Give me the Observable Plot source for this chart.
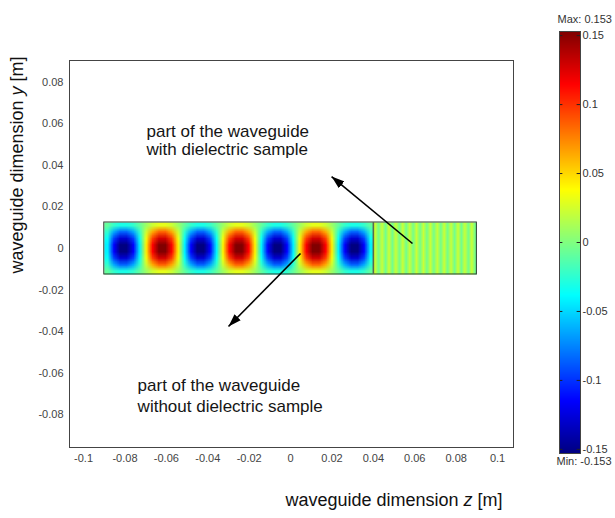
<!DOCTYPE html>
<html>
<head>
<meta charset="utf-8">
<script src="https://cdn.jsdelivr.net/npm/d3@7"></script>
<script src="https://cdn.jsdelivr.net/npm/@observablehq/plot@0.6"></script>
<style>
html, body { margin: 0; padding: 0; background: #fff; }
#wrap { position: relative; width: 615px; height: 518px; overflow: hidden; font-family: "Liberation Sans", Arial, sans-serif; }
#wrap svg { position: absolute; overflow: visible; }
.title { position: absolute; color: #111; font-size: 18px; white-space: nowrap; line-height: 1; }
</style>
</head>
<body>
<div id="wrap"></div>
<script>
// ---- data ----
const xTicks = [-0.1, -0.08, -0.06, -0.04, -0.02, 0, 0.02, 0.04, 0.06, 0.08, 0.1];
const yTicks = [-0.08, -0.06, -0.04, -0.02, 0, 0.02, 0.04, 0.06, 0.08];
const colorTicks = [-0.15, -0.1, -0.05, 0, 0.05, 0.1, 0.15];
const fieldMin = -0.153;
const fieldMax = 0.153;
// waveguide geometry: start, end of empty part (= start of sample), end
const guideZ = [-0.09, 0.04, 0.09];
const guideY = [-0.0125, 0.0125];
// field along the centre line of the empty part (7 half-waves, 6 samples each)
const zProfileEmpty = [
  -0.042, -0.115, -0.153, -0.153, -0.115, -0.042,
   0.042,  0.115,  0.153,  0.153,  0.115,  0.042,
  -0.042, -0.115, -0.153, -0.153, -0.115, -0.042,
   0.042,  0.115,  0.153,  0.153,  0.115,  0.042,
  -0.042, -0.115, -0.153, -0.153, -0.115, -0.042,
   0.042,  0.115,  0.153,  0.153,  0.115,  0.042,
  -0.042, -0.115, -0.153, -0.153, -0.115, -0.042
];
// relative amplitude across the waveguide height
const yProfile = [0.2, 0.56, 0.84, 1, 1, 0.84, 0.56, 0.2];
// field along the part with the dielectric sample (fine stripes)
const zProfileSample = [
  0.022, -0.004, 0.022, -0.004, 0.022, -0.004, 0.022, -0.004, 0.022, -0.004,
  0.022, -0.004, 0.022, -0.004, 0.022, -0.004, 0.022, -0.004, 0.022, -0.004,
  0.022, -0.004, 0.022, -0.004, 0.022, -0.004, 0.022, -0.004, 0.022, -0.004
];
const noteText = ["part of the waveguide", "with dielectric sample", "part of the waveguide", "without dielectric sample"];
const noteX = [-0.0696, -0.0696, -0.0739, -0.0739];
const noteY = [0.0563, 0.0476, -0.0659, -0.0760];
const arrowFrom = [[0.0589, 0.0024], [0.0048, -0.0024]];
const arrowTo = [[0.0198, 0.0346], [-0.030, -0.0375]];
const jetColors = ["#000080", "#0000ff", "#0080ff", "#00ffff", "#80ff80", "#ffff00", "#ff8000", "#ff0000", "#800000"];

// ---- derived tables ----
const fieldEmpty = yProfile.flatMap(a => zProfileEmpty.map(b => a * b));
const fieldSample = yProfile.flatMap(() => zProfileSample.slice());
const notes = noteText.map((t, i) => ({text: t, x: noteX[i], y: noteY[i]}));
const arrows = arrowFrom.map((f, i) => ({x1: f[0], y1: f[1], x2: arrowTo[i][0], y2: arrowTo[i][1]}));
const colorOpts = {domain: [fieldMin, fieldMax], interpolate: d3.piecewise(d3.interpolateRgb, jetColors)};
const font = "'Liberation Sans', Arial, sans-serif";

const main = Plot.plot({
  width: 615, height: 518,
  marginLeft: 69, marginRight: 102, marginTop: 60, marginBottom: 71,
  x: {domain: [-0.1068, 0.1077]},
  y: {domain: [-0.0957, 0.0904]},
  color: colorOpts,
  style: {fontFamily: font, fontSize: "11px", color: "#444", background: "transparent"},
  marks: [
    Plot.raster(fieldEmpty, {width: zProfileEmpty.length, height: yProfile.length,
      x1: guideZ[0], x2: guideZ[1], y1: guideY[0], y2: guideY[1], fill: d => d, imageRendering: "auto"}),
    Plot.raster(fieldSample, {width: zProfileSample.length, height: yProfile.length,
      x1: guideZ[1], x2: guideZ[2], y1: guideY[0], y2: guideY[1], fill: d => d, imageRendering: "auto"}),
    Plot.rect([0], {x1: guideZ[0], x2: guideZ[2], y1: guideY[0], y2: guideY[1], fill: "none", stroke: "#2f3a2f", strokeWidth: 1}),
    Plot.ruleX([guideZ[1]], {y1: guideY[0], y2: guideY[1], stroke: "#5a6a50", strokeWidth: 1.6}),
    Plot.link(arrows, {x1: "x1", y1: "y1", x2: "x2", y2: "y2", stroke: "#000", strokeWidth: 1.6}),
    Plot.text(notes, {x: "x", y: "y", text: "text", textAnchor: "start", fontSize: 17, fill: "#151515", lineAnchor: "middle"}),
    Plot.frame({stroke: "#444"}),
    Plot.axisX(xTicks, {tickSize: 0, tickPadding: 7, tickFormat: d => String(d), fontSize: 11, fill: "#444"}),
    Plot.axisY(yTicks, {tickSize: 0, tickPadding: 6, tickFormat: d => String(d), fontSize: 11, fill: "#444"})
  ]
});
main.style.left = "0px";
main.style.top = "0px";

// filled arrowheads on the link paths
const ns = "http://www.w3.org/2000/svg";
const defs = document.createElementNS(ns, "defs");
const marker = document.createElementNS(ns, "marker");
marker.setAttribute("id", "ahead");
marker.setAttribute("viewBox", "0 0 12 8");
marker.setAttribute("refX", "12");
marker.setAttribute("refY", "4");
marker.setAttribute("markerUnits", "userSpaceOnUse");
marker.setAttribute("markerWidth", "13");
marker.setAttribute("markerHeight", "9");
marker.setAttribute("orient", "auto");
const mp = document.createElementNS(ns, "path");
mp.setAttribute("d", "M0,0L12,4L0,8Z");
mp.setAttribute("fill", "#000");
marker.appendChild(mp);
defs.appendChild(marker);
main.insertBefore(defs, main.firstChild);
main.querySelectorAll('g[aria-label="link"] path').forEach(p => p.setAttribute("marker-end", "url(#ahead)"));

const cbar = Plot.plot({
  width: 75, height: 480,
  marginLeft: 19, marginRight: 35, marginTop: 31, marginBottom: 27,
  x: {domain: [0, 1], axis: null},
  y: {domain: [fieldMin, fieldMax], axis: null},
  color: colorOpts,
  style: {fontFamily: font, fontSize: "11px", color: "#333", background: "transparent"},
  marks: [
    Plot.raster({x1: 0, x2: 1, y1: fieldMin, y2: fieldMax, fill: (x, y) => y, pixelSize: 1}),
    Plot.ruleY(colorTicks, {x1: 0, x2: 0.16, stroke: "#222"}),
    Plot.ruleY(colorTicks, {x1: 0.84, x2: 1, stroke: "#222"}),
    Plot.frame({stroke: "#444"}),
    Plot.axisY(colorTicks, {anchor: "right", tickSize: 0, tickPadding: 2, tickFormat: d => String(d), fontSize: 11, fill: "#333"}),
    Plot.text([`Max: ${fieldMax}`], {frameAnchor: "top-left", dx: -2, dy: -16, textAnchor: "start", fontSize: 11, fill: "#333"}),
    Plot.text([`Min: ${fieldMin}`], {frameAnchor: "bottom-left", dx: -3, dy: 11, textAnchor: "start", fontSize: 11, fill: "#333"})
  ]
});
cbar.style.left = "540px";
cbar.style.top = "0px";

const wrap = document.getElementById("wrap");
wrap.appendChild(main);
wrap.appendChild(cbar);

const xt = document.createElement("div");
xt.className = "title";
xt.innerHTML = "waveguide dimension <i>z</i> [m]";
xt.style.left = "394px"; xt.style.top = "500px";
xt.style.transform = "translate(-50%, -50%)";
wrap.appendChild(xt);

const yt = document.createElement("div");
yt.className = "title";
yt.innerHTML = "waveguide dimension <i>y</i> [m]";
yt.style.left = "17px"; yt.style.top = "165px";
yt.style.transform = "translate(-50%, -50%) rotate(-90deg)";
wrap.appendChild(yt);
</script>
</body>
</html>
